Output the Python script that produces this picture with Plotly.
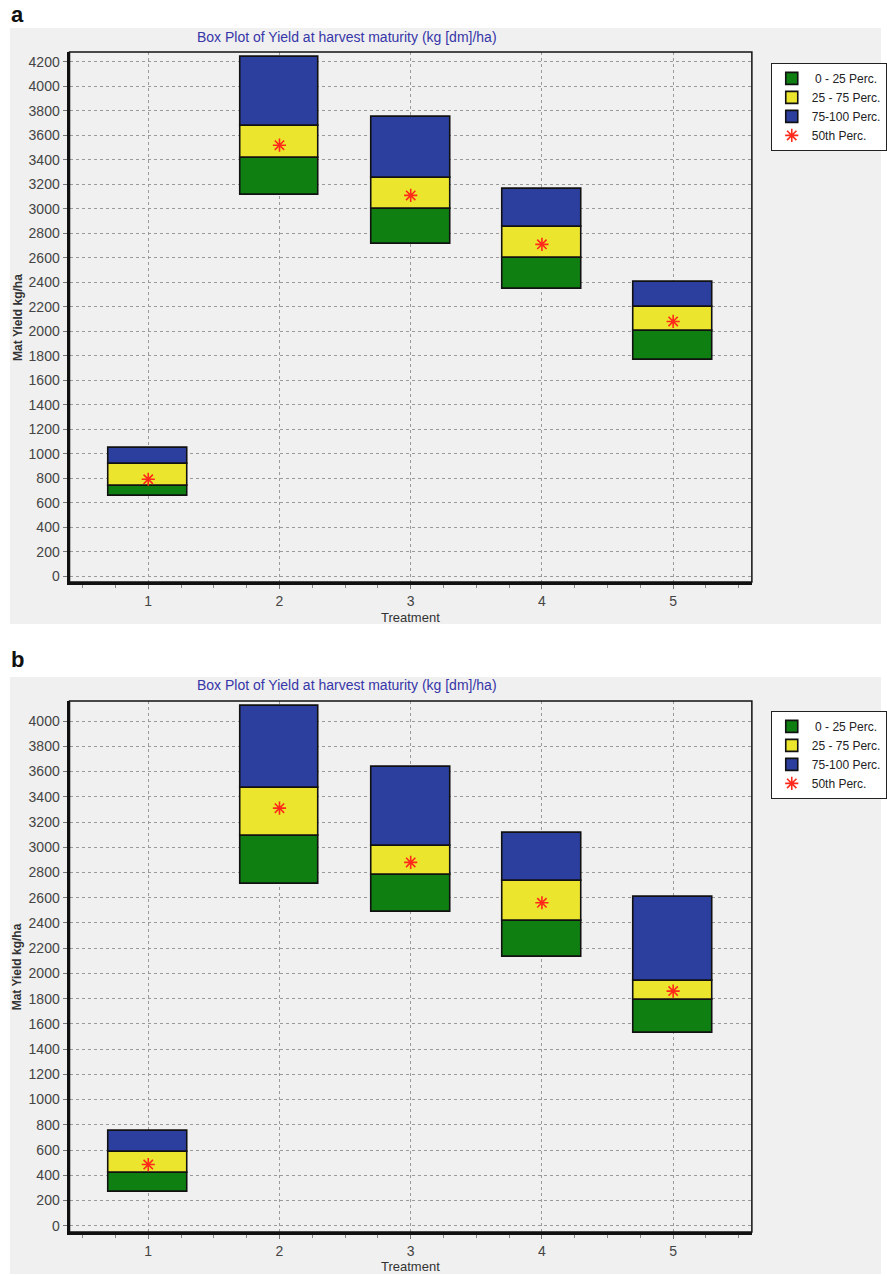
import plotly.graph_objects as go

treatments = [1, 2, 3, 4, 5]

# Panel a
a_min = [655, 3110, 2710, 2350, 1770]
a_q1 = [737, 3420, 3000, 2600, 2000]
a_q3 = [913, 3680, 3250, 2850, 2200]
a_max = [1050, 4240, 3750, 3160, 2400]
a_med = [791, 3520, 3110, 2710, 2080]

# Panel b
b_min = [266, 2710, 2490, 2130, 1530]
b_q1 = [417, 3090, 2780, 2420, 1790]
b_q3 = [583, 3470, 3010, 2730, 1940]
b_max = [755, 4120, 3640, 3110, 2610]
b_med = [485, 3310, 2880, 2560, 1860]

legend_names = [" 0 - 25 Perc.", "25 - 75 Perc.", "75-100 Perc.", "50th Perc."]
colors = ["#0f7f12", "#ece52e", "#2c3f9e"]
title_text = "Box Plot of Yield at harvest maturity (kg [dm]/ha)"
y_title = "Mat Yield kg/ha"
x_title = "Treatment"

W, H = 887, 1276
fig = go.Figure()

def px_x(p):
    return p / W

def px_y(p):
    return 1 - p / H

panels = [
    dict(mn=a_min, q1=a_q1, q3=a_q3, mx=a_max, med=a_med, xa="x", ya="y", leg="legend",
         top=52, bot=583, yrange=[-49, 4282], ytop_max=4200, gray=(28, 625), label="a", label_y=15,
         title_y=37, legend_y=63, xt_y=618),
    dict(mn=b_min, q1=b_q1, q3=b_q3, mx=b_max, med=b_med, xa="x2", ya="y2", leg="legend2",
         top=702, bot=1234, yrange=[-50, 4160], ytop_max=4000, gray=(678, 1276), label="b", label_y=661,
         title_y=686, legend_y=712, xt_y=1268),
]

left, right = 70, 757
shapes = []
annotations = []
layout_extra = {}
tick_font = dict(family="Liberation Sans", size=14, color="#444")

for i, p in enumerate(panels):
    lows = [p["mn"], p["q1"], p["q3"]]
    highs = [p["q1"], p["q3"], p["mx"]]
    for k in range(3):
        fig.add_trace(go.Bar(
            x=treatments, base=lows[k], y=[h - l for h, l in zip(highs[k], lows[k])],
            width=0.6, marker=dict(color=colors[k], line=dict(color="#111111", width=1.6)),
            name=legend_names[k], xaxis=p["xa"], yaxis=p["ya"], legend=p["leg"],
            hoverinfo="skip"))
    fig.add_trace(go.Scatter(
        x=treatments, y=p["med"], mode="markers",
        marker=dict(symbol="asterisk-open", size=11, color="#ff2a1a",
                    line=dict(color="#ff2a1a", width=1.6)),
        name=legend_names[3], xaxis=p["xa"], yaxis=p["ya"], legend=p["leg"], hoverinfo="skip"))

    shapes.append(dict(type="rect", xref="paper", yref="paper", x0=px_x(10), x1=1.0,
                       y0=px_y(p["gray"][1]), y1=px_y(p["gray"][0]),
                       fillcolor="#f0f0f0", line=dict(width=0), layer="below"))
    shapes.append(dict(type="rect", xref="paper", yref="paper", x0=px_x(left), x1=px_x(right),
                       y0=px_y(p["bot"]), y1=px_y(p["top"]),
                       line=dict(color="#111111", width=1.5), layer="above"))

    xname = "xaxis" if i == 0 else "xaxis2"
    yname = "yaxis" if i == 0 else "yaxis2"
    layout_extra[xname] = dict(
        domain=[px_x(left), px_x(right)], range=[0.4, 5.6], anchor=p["ya"],
        tickvals=treatments, ticks="outside", ticklen=4, tickcolor="#777",
        showgrid=True, gridcolor="#9a9a9a", griddash="3px,3px", gridwidth=1,
        showline=True, linecolor="#111111", linewidth=3, zeroline=False,
        tickfont=tick_font,
        minor=dict(dtick=0.25, tick0=0, ticks="outside", ticklen=3, tickcolor="#888", showgrid=False),
        fixedrange=True)
    layout_extra[yname] = dict(
        domain=[px_y(p["bot"]), px_y(p["top"])], range=p["yrange"], anchor=p["xa"],
        tickvals=list(range(0, p["ytop_max"] + 1, 200)), ticks="outside", ticklen=4, tickcolor="#777",
        showgrid=True, gridcolor="#9a9a9a", griddash="3px,3px", gridwidth=1,
        showline=True, linecolor="#111111", linewidth=3, zeroline=False,
        tickfont=tick_font,
        fixedrange=True)
    lname = "legend" if i == 0 else "legend2"
    layout_extra[lname] = dict(
        x=px_x(776), y=px_y(p["legend_y"]), xanchor="left", yanchor="top",
        bgcolor="#ffffff", bordercolor="#222", borderwidth=1,
        font=dict(family="Liberation Sans", size=12, color="#222"),
        tracegroupgap=0, itemwidth=30, traceorder="normal")

    annotations.append(dict(text="<b>" + p["label"] + "</b>", xref="paper", yref="paper",
                            x=px_x(9), y=px_y(p["label_y"]), xanchor="left", yanchor="middle",
                            showarrow=False, font=dict(family="Liberation Sans", size=22, color="#111")))
    annotations.append(dict(text=title_text, xref="paper", yref="paper",
                            x=px_x(349), y=px_y(p["title_y"]), xanchor="center", yanchor="middle",
                            showarrow=False, font=dict(family="Liberation Sans", size=14, color="#3636a8")))
    annotations.append(dict(text="<b>" + y_title + "</b>", xref="paper", yref="paper", textangle=-90,
                            x=px_x(18), y=(px_y(p["bot"]) + px_y(p["top"])) / 2,
                            xanchor="center", yanchor="middle",
                            showarrow=False, font=dict(family="Liberation Sans", size=12, color="#333")))
    annotations.append(dict(text=x_title, xref="paper", yref="paper",
                            x=px_x((left + right) / 2), y=px_y(p["xt_y"]),
                            xanchor="center", yanchor="middle",
                            showarrow=False, font=dict(family="Liberation Sans", size=13, color="#333")))

fig.update_layout(
    width=W, height=H, margin=dict(l=0, r=0, t=0, b=0),
    paper_bgcolor="#ffffff", plot_bgcolor="#f6f6f6",
    barmode="overlay", bargap=0, showlegend=True,
    shapes=shapes, annotations=annotations, **layout_extra)

fig.write_html("out.html", post_script="document.body.style.margin='0';",
               config={"displayModeBar": False})
